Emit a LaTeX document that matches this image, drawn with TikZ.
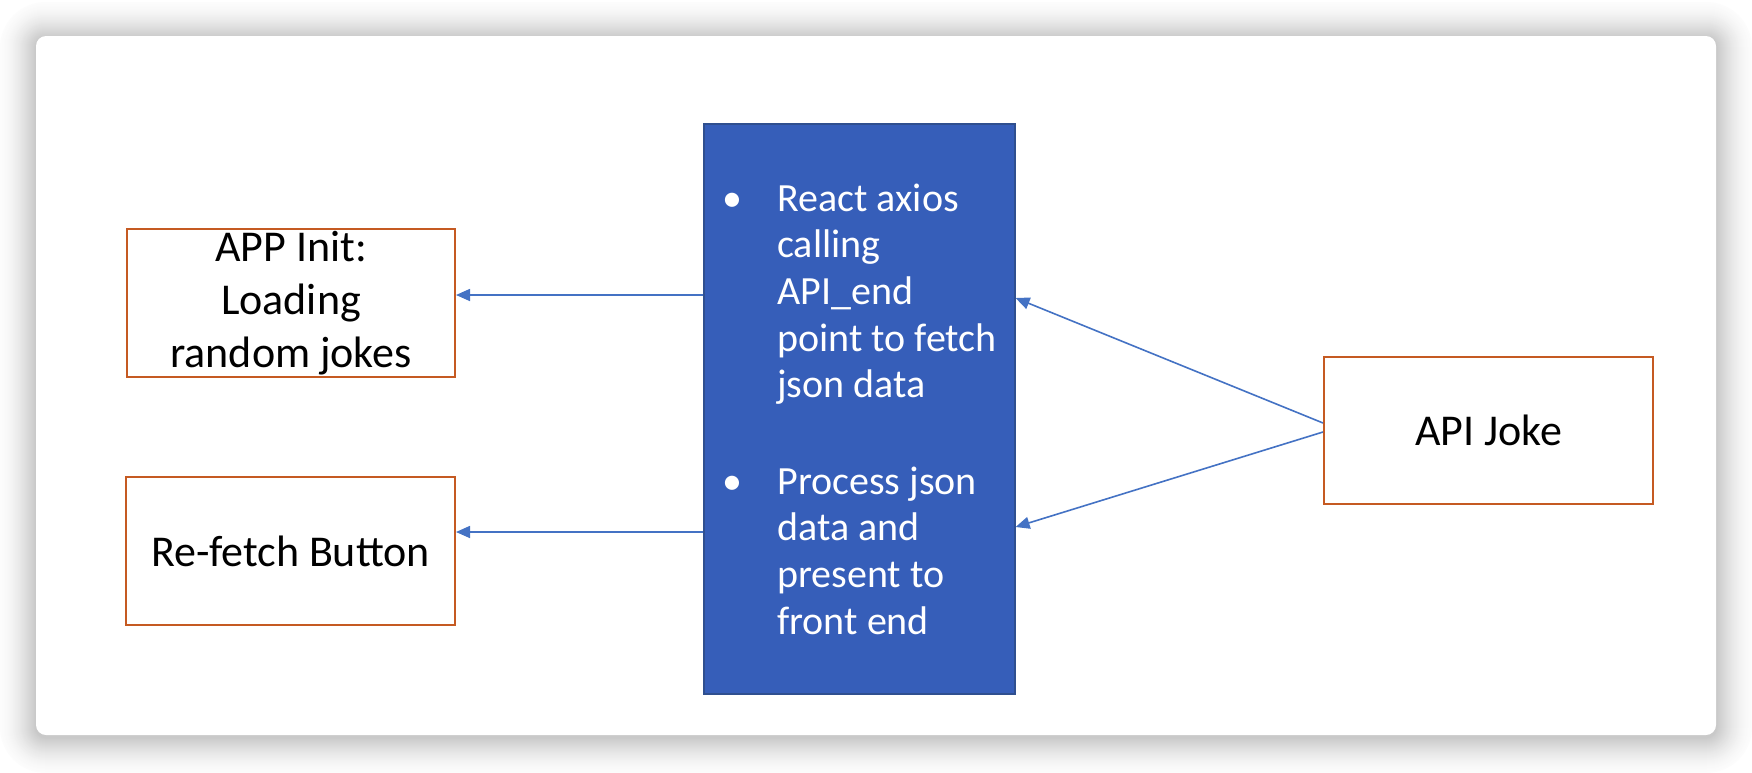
\documentclass[tikz,border=0pt]{standalone}
\usepackage{fontspec}
\setmainfont{Carlito}
\usepackage{xcolor}
\usepackage{tikz}
\usetikzlibrary{arrows.meta,positioning}
\definecolor{bluex}{HTML}{365EB9}
\definecolor{blueedge}{HTML}{2F4F8F}
\definecolor{arrowx}{HTML}{4472C4}
\definecolor{orangex}{HTML}{C55A22}
\tikzset{
  ar/.style={-{Triangle[length=7pt,width=6pt]},line width=0.8pt,arrowx},
  box/.style={draw=orangex,line width=1pt,fill=white,align=center,inner sep=0pt,
    font=\fontsize{22}{26.5}\selectfont},
  procbox/.style={draw=blueedge,line width=0.6pt,fill=bluex,text=white,align=left,inner sep=0pt,
    font=\fontsize{20}{23.3}\selectfont},
  card/.style={fill=white,rounded corners=5pt}
}
\newcommand{\bul}{\makebox[27.5pt][l]{\textbullet}}
\newcommand{\ind}{\hspace*{27.5pt}}

\begin{document}
\begin{tikzpicture}[x=0.5pt,y=-0.5pt]
\useasboundingbox (0,0) rectangle (1752,772);
\fill[white] (0,0) rectangle (1752,772);
% shadow and card
\foreach \d in {36,...,1}{
  \pgfmathsetmacro{\rr}{(10+\d)*0.5}
  \pgfmathsetmacro{\pc}{1+21*(1-\d/37)^1.6}
  \fill[black!\pc,rounded corners=\rr pt] (36-\d,38-\d) rectangle (1716+\d,737+\d);
}
\path[card] (36,36) rectangle (1716,735);
% boxes
\node[box,minimum width=164pt,minimum height=74pt] (init) at (291,303) {APP Init:\\Loading\\random jokes};
\node[box,minimum width=164.5pt,minimum height=74pt] (refetch) at (290.5,551) {Re-fetch Button};
\node[box,minimum width=164.5pt,minimum height=73.5pt] (apijoke) at (1488.5,430.5) {API Joke};
\node[procbox,minimum width=155.5pt,minimum height=285pt] (axios) at (859.5,409)
  {\bul React axios\\ \ind calling\\ \ind API\_end\\ \ind point to fetch\\ \ind json data\\[25pt]
   \bul Process json\\ \ind data and\\ \ind present to\\ \ind front end};
% connectors
\draw[ar] (axios.west |- 0,295) -- (init.east |- 0,295);
\draw[ar] (axios.west |- 0,532) -- (refetch.east |- 0,532);
\draw[ar] ([yshift=3.75pt]apijoke.west) -- ([yshift=55.5pt]axios.east);
\draw[ar] ([yshift=-0.75pt]apijoke.west) -- ([yshift=-59pt]axios.east);
\end{tikzpicture}
\end{document}
